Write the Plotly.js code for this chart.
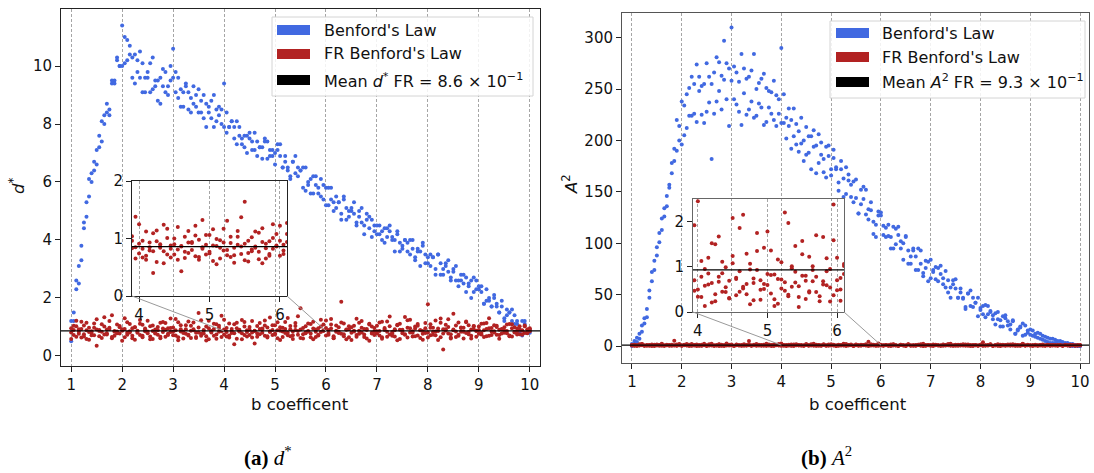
<!DOCTYPE html>
<html><head><meta charset="utf-8">
<script src="https://cdn.plot.ly/plotly-3.0.1.min.js"></script>
<style>html,body{margin:0;padding:0;background:#fff}#chart{width:1094px;height:473px}</style>
</head><body><div id="chart"></div>
<script>
// b coefficient values
const xs = [1,1.05,1.1,1.15,1.2,1.25,1.3,1.35,1.4,1.45,1.5,1.55,1.6,1.65,1.7,1.75,1.8,1.85,1.9,1.95,
2,2.05,2.1,2.15,2.2,2.25,2.3,2.35,2.4,2.45,2.5,2.55,2.6,2.65,2.7,2.75,2.8,2.85,2.9,2.95,
3,3.05,3.1,3.15,3.2,3.25,3.3,3.35,3.4,3.45,3.5,3.55,3.6,3.65,3.7,3.75,3.8,3.85,3.9,3.95,
4,4.05,4.1,4.15,4.2,4.25,4.3,4.35,4.4,4.45,4.5,4.55,4.6,4.65,4.7,4.75,4.8,4.85,4.9,4.95,
5,5.05,5.1,5.15,5.2,5.25,5.3,5.35,5.4,5.45,5.5,5.55,5.6,5.65,5.7,5.75,5.8,5.85,5.9,5.95,
6,6.05,6.1,6.15,6.2,6.25,6.3,6.35,6.4,6.45,6.5,6.55,6.6,6.65,6.7,6.75,6.8,6.85,6.9,6.95,
7,7.05,7.1,7.15,7.2,7.25,7.3,7.35,7.4,7.45,7.5,7.55,7.6,7.65,7.7,7.75,7.8,7.85,7.9,7.95,
8,8.05,8.1,8.15,8.2,8.25,8.3,8.35,8.4,8.45,8.5,8.55,8.6,8.65,8.7,8.75,8.8,8.85,8.9,8.95,
9,9.05,9.1,9.15,9.2,9.25,9.3,9.35,9.4,9.45,9.5,9.55,9.6,9.65,9.7,9.75,9.8,9.85,9.9,9.95,10];

// (a) d* — Benford's Law, two runs
const dBenA = [1.2,1.2,2.3,2.5,3.8,4.4,4.8,6.1,6.0,6.7,6.6,7.6,7.4,8.3,8.4,8.3,9.4,9.5,10.3,10.0,
11.4,10.1,10.9,10.4,9.6,10.4,9.8,10.5,9.1,9.6,9.8,9.1,10.3,9.3,9.5,8.7,9.9,9.1,9.3,10.0,
10.6,9.1,9.6,8.6,9.1,9.3,8.5,8.9,9.3,8.6,8.4,8.8,9.0,7.9,8.6,8.2,9.0,8.1,8.3,8.5,
9.4,7.7,7.9,8.1,7.5,8.1,7.6,7.3,7.6,7.0,7.7,7.4,7.1,7.4,7.2,6.8,7.4,7.4,6.9,7.1,
6.6,7.3,6.9,6.5,6.9,6.5,6.2,6.7,6.9,6.2,6.4,6.5,5.7,5.9,6.1,5.6,6.2,5.8,5.5,5.9,
5.8,5.2,5.8,5.3,5.1,5.3,4.7,5.4,5.1,4.8,5.1,4.9,4.5,5.0,5.1,4.5,4.7,4.8,4.1,4.3,
4.2,4.5,4.3,3.9,4.4,4.5,4.0,4.0,4.2,3.6,3.8,4.0,3.6,4.0,3.7,3.4,3.7,3.1,3.8,3.5,
3.4,3.1,3.4,2.8,3.5,3.2,2.8,3.2,2.9,2.6,3.0,3.1,2.6,2.6,2.8,2.2,2.4,2.6,2.2,2.6,
2.3,2.4,1.8,1.9,2.0,1.7,2.1,1.7,1.5,1.7,1.2,1.6,1.5,1.2,1.4,1.1,0.8,1.2,1.2,0.8,0.8];
const dBenB = [0.5,1.5,2.6,3.1,3.3,4.6,5.3,5.5,6.3,6.4,7.1,7.2,8.1,8.0,8.7,8.5,9.5,9.4,10.2,10.0,
10.0,11.0,10.2,10.7,10.3,9.4,10.2,9.6,10.1,9.1,9.6,10.1,9.2,9.5,8.8,9.6,9.3,9.8,9.0,9.5,
9.6,9.8,8.9,9.2,8.6,9.4,9.1,8.4,8.7,9.0,9.2,8.4,8.2,8.7,8.4,8.8,7.9,8.5,8.6,8.0,
7.9,8.4,7.9,8.1,7.9,7.3,7.9,7.5,7.2,7.6,7.5,7.1,7.7,6.9,7.2,7.2,7.5,6.8,7.1,6.9,
7.0,7.1,7.3,6.5,6.7,6.4,6.1,6.7,6.3,6.5,6.4,5.8,6.5,6.0,5.6,6.2,5.9,5.6,6.1,5.4,
5.2,5.8,5.4,5.0,5.5,5.3,4.9,5.5,4.7,5.0,5.0,5.3,4.6,4.8,4.6,4.2,4.9,4.4,4.7,4.5,
4.5,4.2,4.0,4.4,4.1,4.3,4.1,3.6,4.3,3.9,3.7,4.0,3.9,3.5,4.0,3.3,3.6,3.6,3.9,3.2,
3.2,3.5,3.4,3.0,3.5,2.8,3.0,3.1,3.3,2.7,2.9,2.6,2.4,2.8,2.5,2.7,2.5,2.0,2.7,2.3,
2.4,2.2,1.8,2.3,1.9,1.7,2.0,1.8,1.5,1.9,1.3,1.4,1.5,1.6,1.1,1.2,0.9,0.7,1.1,0.8,0.9];

// (a) d* — FR Benford's Law, three runs
const dFrA = [0.95,0.72,1.21,0.84,0.63,1.05,0.88,0.56,0.79,1.12,0.91,0.68,0.83,1.33,0.74,0.97,0.61,0.86,1.08,0.77,
0.52,0.93,1.16,0.81,0.69,0.99,0.87,1.24,0.64,0.85,0.78,1.02,0.58,0.91,0.73,1.14,0.82,0.66,0.95,1.29,
0.71,0.88,0.54,1.06,0.83,0.76,1.19,0.62,0.92,0.80,1.48,0.69,0.87,1.01,0.57,0.84,1.11,0.74,0.96,0.65,
1.25,0.82,0.70,0.93,1.09,0.59,0.86,0.78,1.17,0.67,0.90,0.81,0.43,1.03,0.75,0.94,1.22,0.63,0.85,0.72,
1.06,0.88,0.55,0.97,0.79,1.31,0.68,0.84,1.13,0.73,0.91,0.60,1.02,0.86,0.77,1.18,0.65,0.95,0.82,1.08,
0.70,0.89,1.27,0.61,0.83,0.99,0.76,1.12,0.57,0.92,0.80,1.04,0.66,0.87,1.20,0.74,0.93,0.52,1.01,0.85,
0.78,1.15,0.64,0.96,0.83,1.36,0.69,0.88,1.07,0.58,0.90,0.75,1.23,0.81,0.67,0.94,1.10,0.62,0.86,0.79,
1.78,0.71,0.97,0.84,0.55,1.14,0.77,0.92,1.26,0.63,0.88,1.05,0.73,0.96,0.60,1.19,0.82,0.69,1.02,0.87,
0.76,1.11,0.65,0.93,1.30,0.72,0.85,1.00,0.59,0.91,0.80,1.08,0.68,0.95,0.83,0.74,1.02,0.88,0.79,0.92,0.85];
const dFrB = [0.81,1.04,0.66,0.92,1.18,0.75,0.58,0.97,0.85,0.71,1.26,0.89,0.62,1.01,0.78,0.93,1.40,0.69,0.84,0.99,
0.87,0.64,0.80,1.10,0.95,0.56,0.83,0.72,1.07,0.90,1.21,0.67,0.86,0.79,1.00,0.61,0.94,1.13,0.76,0.82,
0.98,0.70,1.16,0.84,0.60,0.92,0.73,1.04,0.88,0.65,0.81,1.23,0.77,0.53,0.95,0.86,0.69,1.09,0.83,1.38,
0.74,0.96,0.63,0.85,0.78,1.14,0.90,0.57,1.01,0.82,0.72,1.20,0.87,0.66,0.93,0.80,1.05,0.68,1.32,0.89,
0.77,0.61,0.99,0.84,1.17,0.71,0.92,0.58,1.03,0.86,1.64,0.75,0.81,1.12,0.64,0.94,0.83,0.70,1.25,0.88,
0.96,0.73,1.08,0.62,0.87,0.79,1.15,0.68,0.91,1.02,0.55,0.84,1.28,0.76,0.97,0.65,0.89,1.11,0.80,0.72,
1.04,0.86,0.59,0.93,1.19,0.74,0.82,0.67,1.06,0.90,0.78,1.34,0.63,0.95,0.85,1.01,0.70,0.88,0.56,1.13,
0.81,0.97,0.73,1.22,0.86,0.64,0.92,1.07,0.77,0.60,1.45,0.84,0.69,0.98,0.83,1.16,0.75,0.91,1.03,0.66,
0.89,0.79,1.12,0.68,0.95,0.84,1.06,0.73,0.90,0.77,0.99,0.86,0.70,1.09,0.81,0.94,0.75,0.87,1.05,0.78,0.90];
const dFrC = [0.58,0.89,1.02,0.76,0.93,0.67,1.14,0.82,0.71,0.97,0.35,0.86,1.09,0.74,0.91,1.20,0.65,0.83,0.78,1.03,
0.92,1.30,0.73,0.85,0.61,0.99,0.80,1.11,0.69,0.94,0.84,0.57,1.05,0.77,0.88,0.66,1.17,0.90,0.72,0.96,
0.83,1.27,0.64,0.92,0.79,1.06,0.70,0.87,1.15,0.62,0.98,0.76,0.89,0.68,1.21,0.81,0.93,0.59,1.04,0.85,
0.91,0.67,1.12,0.79,0.40,0.95,0.84,1.24,0.72,0.88,1.00,0.63,0.86,0.77,1.13,0.92,0.69,0.98,0.82,1.06,
0.74,1.16,0.87,0.65,0.93,0.80,1.03,0.71,0.89,1.37,0.62,0.96,0.78,0.84,1.10,0.57,0.91,0.73,1.01,0.86,
1.22,0.79,0.94,0.68,1.05,0.83,1.87,0.75,0.90,0.64,0.99,0.87,0.72,1.14,0.81,0.93,0.60,1.08,0.77,0.96,
0.85,0.70,1.18,0.89,0.66,1.02,0.78,0.92,0.54,1.11,0.84,0.73,0.97,1.25,0.80,0.68,1.04,0.88,0.76,0.95,
0.63,1.09,0.82,0.71,0.94,1.29,0.22,0.87,1.00,0.75,0.91,0.65,1.15,0.83,0.97,0.79,1.06,0.60,0.92,0.86,
1.01,0.74,0.88,1.13,0.69,0.96,0.81,1.04,0.72,0.93,0.87,0.78,1.10,0.67,0.99,0.84,0.91,0.73,1.02,0.80,0.95];

// (b) A^2 — Benford's Law, two runs
const aBenA = [0,5,8,7,20,27,36,54,72,74,96,101,124,126,146,154,168,192,220,200,
238,205,245,224,262,226,274,248,225,255,275,237,255,226,281,248,263,297,240,270,
310,240,266,228,284,246,225,262,238,284,224,256,232,265,218,248,226,258,214,240,
290,217,222,231,192,204,216,189,222,200,186,204,172,210,195,178,198,182,164,195,
166,191,172,159,172,145,174,161,145,160,144,129,152,155,128,133,140,109,118,127,
127,117,106,118,106,95,114,116,95,100,106,80,87,93,74,95,80,71,83,63,
66,72,77,63,78,66,57,64,47,64,56,47,56,47,38,51,54,38,42,47,
35,39,28,39,33,26,32,26,19,29,30,20,21,24,12,15,19,10,20,13,
16,10,12,13,7,6,9,8,3,7,6,2,5,4,1,3,2,0,1,1,0];
const aBenB = [2,2,4,12,14,22,28,47,63,83,88,110,113,134,136,157,178,180,190,214,
196,234,212,251,224,255,218,262,253,217,228,262,182,266,238,276,230,259,275,214,
258,272,235,257,215,270,260,230,268,222,250,236,260,215,251,232,247,220,244,226,
217,245,202,214,220,231,196,209,197,180,213,188,204,194,168,206,186,169,194,185,
172,183,174,151,180,163,148,167,157,140,162,129,138,143,152,123,132,121,106,131,
130,108,115,107,95,116,99,108,102,84,107,93,80,95,87,74,93,68,76,82,
84,74,65,76,70,60,73,52,57,60,65,47,52,46,36,51,39,47,42,29,
37,31,40,31,34,30,21,33,25,19,27,24,16,25,12,16,18,22,11,15,
11,15,9,8,12,10,5,4,7,3,3,5,2,1,3,1,0,2,0,0,0];

// (b) A^2 — FR Benford's Law, three runs
const aFrA = [0.45,1.32,0.18,0.86,2.10,0.62,0.31,1.05,0.74,0.12,1.58,0.93,0.40,0.27,1.21,0.68,0.85,5.10,0.53,1.44,
0.22,0.79,1.87,0.36,0.64,0.97,0.15,1.13,0.58,2.31,0.72,0.43,1.02,0.29,0.81,1.66,0.50,0.09,0.91,1.25,
0.63,0.34,1.48,0.76,0.20,1.09,0.55,4.80,0.41,0.88,1.94,0.67,0.26,1.17,0.59,0.83,0.14,1.39,0.71,0.47,
2.45,0.33,0.95,0.61,1.52,0.24,0.78,1.11,0.44,0.69,2.08,0.37,0.90,0.56,1.29,0.17,0.74,1.75,0.49,0.62,
0.84,1.36,0.28,0.73,0.52,2.20,0.38,1.01,0.65,0.11,1.57,0.80,0.46,0.93,1.70,0.35,0.68,1.19,0.54,2.38,
0.70,0.25,1.06,0.59,1.42,0.42,0.87,0.19,1.23,0.64,0.77,1.85,0.48,0.32,0.96,1.33,0.57,0.13,1.09,0.71,
0.39,1.61,0.82,0.51,0.27,1.14,0.66,2.02,0.45,0.88,0.21,1.30,0.75,0.60,1.50,0.36,0.92,0.16,1.04,0.58,
0.79,3.60,0.43,0.85,1.26,0.30,0.69,1.72,0.52,0.97,0.23,1.38,0.63,0.47,1.16,0.81,0.34,1.98,0.56,0.74,
0.41,1.08,0.62,0.29,0.89,1.47,0.53,0.76,0.18,1.12,0.67,0.38,0.94,0.50,1.24,0.72,0.33,0.86,0.59,0.44,0.65];
const aFrB = [1.12,0.58,0.33,1.76,0.81,0.47,0.95,0.24,1.38,0.66,0.89,0.37,2.25,0.52,0.74,1.06,0.20,0.61,1.49,0.85,
0.43,1.18,0.70,0.28,2.05,0.56,0.92,0.35,1.27,0.79,0.14,1.63,0.48,0.87,0.63,1.41,0.31,0.76,2.48,0.53,
0.98,0.27,1.15,0.69,0.42,1.80,0.57,0.84,0.19,1.31,0.72,0.46,1.03,0.60,0.22,1.55,0.81,0.36,0.94,1.92,
0.50,0.78,0.13,1.20,0.64,0.39,1.67,0.86,0.55,0.30,1.08,0.73,0.45,2.15,0.62,0.94,0.26,1.35,0.70,0.51,
1.78,0.41,0.83,0.18,1.10,0.66,0.35,0.97,1.46,0.57,0.80,0.29,1.22,0.68,0.44,4.20,0.61,0.90,0.23,1.59,
0.48,0.75,1.02,0.37,0.88,1.68,0.54,0.32,1.14,0.71,0.10,1.40,0.63,0.86,0.42,0.96,1.83,0.58,0.27,1.05,
0.69,0.40,1.28,0.82,0.53,0.17,1.11,0.74,2.33,0.46,0.91,0.34,1.19,0.65,0.56,1.52,0.30,0.87,0.72,0.21,
1.34,0.60,0.45,0.99,1.71,0.38,0.77,0.26,1.16,0.63,0.92,0.49,1.43,0.70,0.33,1.07,0.58,2.12,0.44,0.81,
0.67,0.28,1.21,0.75,0.52,0.95,0.36,1.37,0.61,0.83,0.47,1.09,0.73,0.31,0.98,0.57,1.18,0.66,0.42,0.89,0.72];
const aFrC = [0.73,0.29,1.09,0.54,1.91,0.38,0.83,0.66,0.16,1.27,0.49,0.95,1.62,0.41,0.71,0.23,1.14,0.87,0.35,2.00,
0.59,0.92,0.44,1.36,0.20,0.77,1.57,0.63,0.32,1.04,0.51,0.86,2.18,0.39,0.69,0.12,1.23,0.81,0.55,0.97,
1.45,0.30,0.74,0.61,1.02,0.25,0.89,1.71,0.48,0.65,0.37,1.19,0.80,0.53,2.29,0.42,0.96,0.18,1.31,0.70,
0.34,1.13,0.58,0.85,0.21,1.50,0.67,0.45,0.99,0.31,1.24,0.76,1.86,0.52,0.39,1.07,0.64,0.93,0.27,1.42,
0.60,0.82,0.13,1.16,0.72,0.47,1.97,0.56,0.89,0.33,1.28,0.69,0.43,1.01,0.78,0.24,1.66,0.59,0.95,0.37,
1.20,0.50,0.84,0.65,0.15,1.47,0.71,0.40,1.03,0.88,0.29,1.60,0.55,0.77,0.36,1.25,0.62,2.14,0.46,0.93,
0.69,0.19,1.10,0.80,0.52,1.39,0.41,0.86,0.63,0.28,1.17,0.74,0.49,1.80,0.57,0.91,0.35,1.06,0.68,0.44,
1.32,0.22,0.79,0.60,1.54,0.39,0.85,0.53,0.14,1.21,0.70,0.96,0.46,1.65,0.58,0.32,1.01,0.75,0.50,1.27,
0.63,0.40,0.90,0.56,1.13,0.34,0.81,0.67,1.02,0.45,0.77,0.59,0.92,0.38,0.71,0.84,0.52,0.96,0.61,0.48,0.70];

const meanD = 0.86;   // Mean d* FR = 8.6e-1
const meanA = 0.93;   // Mean A^2 FR = 9.3e-1
const mainTicks = [1,2,3,4,5,6,7,8,9,10];
const insetTicks = [4,5,6];
const zoomFrom = 4, zoomTo = 6;
const legendLabelsA = ["Benford's Law", "FR Benford's Law", "Mean <i>d</i><sup>*</sup> FR = 8.6 × 10<sup>−1</sup>"];
const legendLabelsB = ["Benford's Law", "FR Benford's Law", "Mean <i>A</i><sup>2</sup> FR = 9.3 × 10<sup>−1</sup>"];

const BLUE = '#4169E1', RED = '#B22222';
const W = 1094, H = 473;
const px = v => v / W, py = v => 1 - v / H;
const FONT = 'DejaVu Sans, sans-serif';

const x3 = xs.concat(xs, xs), x2 = xs.concat(xs);

const dom = {
  x:  [px(61), px(540)],  y:  [py(366), py(9)],
  x2: [px(622), px(1089)], y2: [py(363), py(13)],
  x3: [px(132), px(287)], y3: [py(296), py(181)],
  x4: [px(693), px(844)], y4: [py(312), py(199)]
};
const rng = {
  x: [0.8, 10.2], y: [-0.35, 11.97],
  x2: [0.8, 10.18], y2: [-16.5, 324],
  x3: [3.9, 6.1], y3: [0, 2],
  x4: [3.93, 6.1], y4: [0, 2.5]
};

const mk = (c) => ({color: c, size: 4, line: {width: 0}});
const traces = [
  {x: x2, y: dBenA.concat(dBenB), xaxis: 'x', yaxis: 'y', type: 'scatter', mode: 'markers', marker: mk(BLUE)},
  {x: x3, y: dFrA.concat(dFrB, dFrC), xaxis: 'x', yaxis: 'y', type: 'scatter', mode: 'markers', marker: mk(RED)},
  {x: x2, y: aBenA.concat(aBenB), xaxis: 'x2', yaxis: 'y2', type: 'scatter', mode: 'markers', marker: mk(BLUE)},
  {x: x3, y: aFrA.concat(aFrB, aFrC), xaxis: 'x2', yaxis: 'y2', type: 'scatter', mode: 'markers', marker: mk(RED)},
  {x: x3, y: dFrA.concat(dFrB, dFrC), xaxis: 'x3', yaxis: 'y3', type: 'scatter', mode: 'markers', marker: mk(RED)},
  {x: x3, y: aFrA.concat(aFrB, aFrC), xaxis: 'x4', yaxis: 'y4', type: 'scatter', mode: 'markers', marker: mk(RED)}
];

function axis(key, extra) {
  return Object.assign({
    domain: dom[key], range: rng[key], autorange: false,
    showline: true, mirror: true, linecolor: '#222', linewidth: 1,
    ticks: 'outside', ticklen: 5, tickwidth: 1, tickcolor: '#222',
    tickfont: {family: FONT, size: 15, color: '#111'},
    zeroline: false, showgrid: false, fixedrange: true
  }, extra);
}
const xgrid = {showgrid: true, gridcolor: '#8f8f8f', gridwidth: 0.8, griddash: '3px,2px'};

const layout = {
  width: W, height: H, margin: {l: 0, r: 0, t: 0, b: 0},
  paper_bgcolor: '#fff', plot_bgcolor: 'rgba(0,0,0,0)', showlegend: false,
  xaxis: axis('x', Object.assign({anchor: 'y', tickvals: mainTicks}, xgrid)),
  yaxis: axis('y', {anchor: 'x', tickvals: [0,2,4,6,8,10]}),
  xaxis2: axis('x2', Object.assign({anchor: 'y2', tickvals: mainTicks, linecolor: '#555'}, xgrid)),
  yaxis2: axis('y2', {anchor: 'x2', tickvals: [0,50,100,150,200,250,300], linecolor: '#555'}),
  xaxis3: axis('x3', Object.assign({anchor: 'y3', tickvals: insetTicks}, xgrid)),
  yaxis3: axis('y3', {anchor: 'x3', tickvals: [0,1,2]}),
  xaxis4: axis('x4', Object.assign({anchor: 'y4', tickvals: insetTicks, linecolor: '#666'}, xgrid)),
  yaxis4: axis('y4', {anchor: 'x4', tickvals: [0,1,2], linecolor: '#666'}),
  shapes: [], annotations: []
};

// mean lines
[['x','y',meanD],['x2','y2',meanA],['x3','y3',meanD],['x4','y4',meanA]].forEach(([xa,ya,m]) => {
  layout.shapes.push({type: 'line', xref: xa + ' domain', yref: ya, x0: 0, x1: 1, y0: m, y1: m,
    line: {color: '#000', width: 1.3}, layer: 'above'});
});

// connector lines from inset corners to zoomed region
function toData(key, frac) {
  const d = dom[key], r = rng[key];
  return r[0] + (frac - d[0]) / (d[1] - d[0]) * (r[1] - r[0]);
}
[['x','y','x3','y3',meanD],['x2','y2','x4','y4',meanA]].forEach(([xa,ya,ix,iy,m]) => {
  const cy = toData(ya, dom[iy][0]);
  const cxl = toData(xa, dom[ix][0]), cxr = toData(xa, dom[ix][1]);
  layout.shapes.push({type: 'line', xref: xa, yref: ya, x0: cxl, y0: cy, x1: zoomFrom, y1: m,
    line: {color: '#9a9a9a', width: 1}, layer: 'above'});
  layout.shapes.push({type: 'line', xref: xa, yref: ya, x0: cxr, y0: cy, x1: zoomTo, y1: m,
    line: {color: '#9a9a9a', width: 1}, layer: 'above'});
});

// legends
function legend(box, patchX, textX, rows, labels) {
  layout.shapes.push({type: 'rect', xref: 'paper', yref: 'paper',
    x0: px(box[0]), x1: px(box[2]), y0: py(box[3]), y1: py(box[1]),
    fillcolor: 'rgba(255,255,255,0.85)', line: {color: '#d4d4d4', width: 1}, layer: 'above'});
  const cols = [BLUE, RED, '#000'];
  rows.forEach((r, i) => {
    layout.shapes.push({type: 'rect', xref: 'paper', yref: 'paper',
      x0: px(patchX[0]), x1: px(patchX[1]), y0: py(r + 5), y1: py(r - 5),
      fillcolor: cols[i], line: {width: 0}, layer: 'above'});
    layout.annotations.push({xref: 'paper', yref: 'paper', x: px(textX), y: py(r),
      xanchor: 'left', yanchor: 'middle', showarrow: false, text: labels[i],
      font: {family: FONT, size: 16, color: '#111'}});
  });
}
legend([272, 17, 533, 96], [277, 310], 322, [30, 54, 80], legendLabelsA);
legend([830, 21, 1085, 98], [836, 869], 880, [33, 57, 82], legendLabelsB);

// axis titles
const ann = (x, y, text, opts) => layout.annotations.push(Object.assign({xref: 'paper', yref: 'paper',
  x: px(x), y: py(y), showarrow: false, text: text, xanchor: 'center', yanchor: 'middle',
  font: {family: FONT, size: 16.5, color: '#111'}}, opts || {}));
ann(300, 404, 'b coefficent');
ann(858, 404, 'b coefficent');
ann(17, 186, '<i>d</i><sup>*</sup>', {textangle: -90});
ann(570, 184, '<i>A</i><sup>2</sup>', {textangle: -90});
// captions
ann(268, 456, '<b>(a)</b> <i>d</i><sup>*</sup>', {font: {family: 'Liberation Serif, serif', size: 21, color: '#000'}});
ann(826, 456, '<b>(b)</b> <i>A</i><sup>2</sup>', {font: {family: 'Liberation Serif, serif', size: 21, color: '#000'}});

Plotly.newPlot('chart', traces, layout, {staticPlot: true, displayModeBar: false});
</script></body></html>
